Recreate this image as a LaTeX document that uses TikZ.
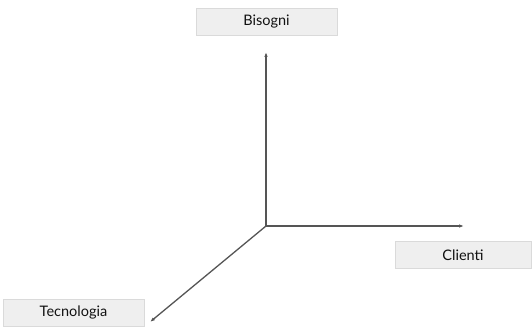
\documentclass[tikz,border=0pt]{standalone}
\usepackage{fontspec}
\setmainfont{Lato}
\usetikzlibrary{arrows.meta}
\definecolor{boxgray}{HTML}{EFEFEF}
\definecolor{edgegray}{HTML}{DADADA}
\definecolor{axisgray}{HTML}{555555}
\definecolor{textdark}{HTML}{111111}
\tikzset{
  >=Latex,
  label box/.style={
    rectangle, draw=edgegray, fill=boxgray, line width=0.5pt,
    minimum width=141pt, minimum height=27pt,
    font=\fontsize{14.5}{17}\selectfont, text=textdark
  },
  axis/.style={-{Latex[length=5pt,width=3.5pt]}, line width=1.3pt, draw=axisgray}
}
\begin{document}
\begin{tikzpicture}[x=1pt,y=-1pt]
\useasboundingbox (0,0) rectangle (532,329);
% axes
\coordinate (o) at (266,226);
\coordinate (up) at (266,52);
\coordinate (right) at (464,226);
\coordinate (down) at (150,322);
\draw[axis] (o) -- (up);
\draw[axis] (o) -- (right);
\draw[axis] (o) -- (down);
% labels
\node[label box] (bisogni) at (266.5,21.5) {Bisogni};
\node[label box, minimum width=136pt] (clienti) at (463,255) {Clienti};
\node[label box] (tecnologia) at (73.5,312.5) {Tecnologia};
\end{tikzpicture}
\end{document}
